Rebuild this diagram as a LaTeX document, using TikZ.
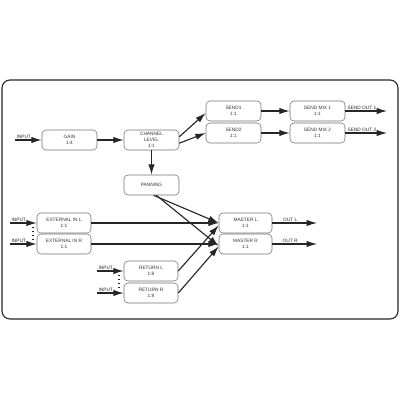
\documentclass[tikz,border=0pt]{standalone}
\usepackage{fontspec}
\setmainfont{Liberation Sans}
\usetikzlibrary{arrows.meta}

\begin{document}
\begin{tikzpicture}[x=0.25mm,y=-0.25mm,font=\fontsize{3.4}{4.3}\selectfont,
  blk/.style={draw=black!55,line width=0.4pt,rounded corners=1mm,fill=white,
    minimum width=13.75mm,minimum height=5mm,align=center,inner sep=0pt,text=black!80},
  sig/.style={line width=0.8pt,black!85,-{Latex[length=2.6mm,width=1.6mm]}},
  lbl/.style={inner sep=0.7pt,text=black!85}]
  \useasboundingbox (0,0) rectangle (400,400);
  \draw[line width=0.8pt,black!85,rounded corners=2mm] (2,80) rectangle (398,319);
  % upper path
  \node[blk] (gain) at (69.5,140) {GAIN\\1:4};
  \node[blk] (chlevel) at (151.5,140) {CHANNEL\\LEVEL\\1:1};
  \node[blk] (pan) at (151.5,185) {PANNING};
  \node[blk] (send1) at (233.5,111) {SEND1\\1:1};
  \node[blk] (send2) at (233.5,133) {SEND2\\1:1};
  \node[blk] (mix1) at (317.5,111) {SEND MIX 1\\1:1};
  \node[blk] (mix2) at (317.5,133) {SEND MIX 2\\1:1};
  % lower path
  \node[blk,minimum width=13.5mm] (extl) at (64,223) {EXTERNAL IN L\\1:1};
  \node[blk,minimum width=13.5mm] (extr) at (64,244) {EXTERNAL IN R\\1:1};
  \node[blk,minimum width=13.5mm] (retl) at (151,271) {RETURN L\\1:8};
  \node[blk,minimum width=13.5mm] (retr) at (151,293) {RETURN R\\1:8};
  \node[blk,minimum width=13.25mm] (masl) at (245.5,223) {MASTER L\\1:1};
  \node[blk,minimum width=13.25mm] (masr) at (245.5,244) {MASTER R\\1:1};
  % free ends
  \coordinate (in0) at (15,140);
  \coordinate (in1) at (10,223);
  \coordinate (in2) at (10,244);
  \coordinate (in3) at (97,271);
  \coordinate (in4) at (97,293);
  \coordinate (so1) at (387,111);
  \coordinate (so2) at (387,133);
  \coordinate (outl) at (317,223);
  \coordinate (outr) at (317,244);
  % inputs
  \draw[sig] (in0) node[lbl,above right] {INPUT} -- (gain);
  \draw[sig] (in1) node[lbl,above right] {INPUT} -- (extl);
  \draw[sig] (in2) node[lbl,above right] {INPUT} -- (extr);
  \draw[sig] (in3) node[lbl,above right] {INPUT} -- (retl);
  \draw[sig] (in4) node[lbl,above right] {INPUT} -- (retr);
  \draw[line width=0.8pt,black!85,dotted] (33,227) -- (33,240);
  \draw[line width=0.8pt,black!85,dotted] (119,275) -- (119,289);
  % signal flow
  \draw[sig] (gain) -- (chlevel);
  \draw[sig] (chlevel) -- (pan);
  \draw[sig] ([yshift=0.8mm]chlevel.east) -- ([yshift=-0.5mm]send1.west);
  \draw[sig] ([yshift=-0.8mm]chlevel.east) -- (send2.west);
  \draw[sig] (send1) -- (mix1);
  \draw[sig] (send2) -- (mix2);
  \draw[sig] (mix1) -- (so1) node[lbl,above,pos=0.4] {SEND OUT 1};
  \draw[sig] (mix2) -- (so2) node[lbl,above,pos=0.4] {SEND OUT 2};
  \draw[sig] ([xshift=0.5mm]pan.south) -- (masl.west);
  \draw[sig] ([xshift=1.2mm]pan.south) -- ([yshift=-0.5mm]masr.west);
  \draw[sig] (extl) -- (masl);
  \draw[sig] (extr) -- (masr);
  \draw[sig] (retl.east) -- ([yshift=-0.6mm]masl.west);
  \draw[sig] (retr.east) -- ([yshift=-0.6mm]masr.west);
  \draw[sig] (masl) -- (outl) node[lbl,above,pos=0.4] {OUT L};
  \draw[sig] (masr) -- (outr) node[lbl,above,pos=0.4] {OUT R};
\end{tikzpicture}
\end{document}
